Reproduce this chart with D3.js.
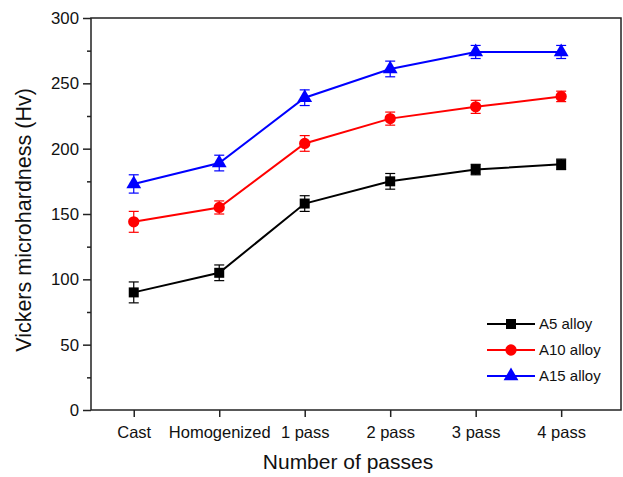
<!DOCTYPE html>
<html>
<head>
<meta charset="utf-8">
<script src="https://cdn.jsdelivr.net/npm/d3@7"></script>
<style>
  html, body { margin: 0; padding: 0; background: #fff; }
  svg { display: block; font-family: "Liberation Sans", Arial, sans-serif; }
</style>
</head>
<body>
<div id="chart"></div>
<script>
// Processing states on the x axis
const stages = ["Cast", "Homogenized", "1 pass", "2 pass", "3 pass", "4 pass"];

// Microhardness (Hv) and error bar half-widths
const a5 = [90, 105, 158, 175, 184, 188];
const a5err = [8, 6, 6, 6, 4, 4];
const a10 = [144, 155, 204, 223, 232, 240];
const a10err = [8, 5, 6, 5, 5, 4];
const a15 = [173, 189, 239, 261, 274, 274];
const a15err = [7, 6, 6, 6, 5, 5];

const yTicks = [0, 50, 100, 150, 200, 250, 300];

const series = [
  { name: "A5 alloy", values: a5, err: a5err, color: "#000000", shape: "square" },
  { name: "A10 alloy", values: a10, err: a10err, color: "#ff0000", shape: "circle" },
  { name: "A15 alloy", values: a15, err: a15err, color: "#0000ff", shape: "triangle" },
];

const W = 623, H = 477;
const margin = { top: 18, right: 2, bottom: 67, left: 91 };
const w = W - margin.left - margin.right, h = H - margin.top - margin.bottom;

const svg = d3.select("#chart").append("svg")
  .attr("width", W).attr("height", H);
const g = svg.append("g").attr("transform", `translate(${margin.left},${margin.top})`);

const x = d3.scaleLinear().domain([0.5, 6.7]).range([0, w]);
const y = d3.scaleLinear().domain([0, 300]).range([h, 0]);

// frame
g.append("rect").attr("width", w).attr("height", h)
  .attr("fill", "none").attr("stroke", "#222").attr("stroke-width", 1.5);

// y axis: major + minor ticks outward
const yAxis = g.append("g")
  .call(d3.axisLeft(y).tickValues(yTicks).tickSize(8).tickPadding(4).tickFormat(d3.format("d")));
yAxis.select(".domain").remove();
yAxis.selectAll("line").attr("stroke", "#222").attr("stroke-width", 1.5);
yAxis.selectAll("text").attr("font-size", 16.8).attr("fill", "#111")
  .attr("font-family", "Liberation Sans, Arial, sans-serif");
const yMinor = g.append("g")
  .call(d3.axisLeft(y).tickValues(d3.range(25, 300, 50)).tickSize(4).tickFormat(""));
yMinor.select(".domain").remove();
yMinor.selectAll("line").attr("stroke", "#222").attr("stroke-width", 1.5);

// x axis
const xAxis = g.append("g").attr("transform", `translate(0,${h})`)
  .call(d3.axisBottom(x).tickValues(d3.range(1, stages.length + 1))
    .tickSize(7).tickPadding(9).tickFormat(i => stages[i - 1]));
xAxis.select(".domain").remove();
xAxis.selectAll("line").attr("stroke", "#222").attr("stroke-width", 1.5);
xAxis.selectAll("text").attr("font-size", 16.5).attr("fill", "#111")
  .attr("font-family", "Liberation Sans, Arial, sans-serif");

// axis titles
svg.append("text").attr("x", 348).attr("y", 469)
  .attr("text-anchor", "middle").attr("font-size", 21).attr("fill", "#111")
  .text("Number of passes");
svg.append("text")
  .attr("transform", `translate(31,220) rotate(-90)`)
  .attr("text-anchor", "middle").attr("font-size", 21.5).attr("fill", "#111")
  .text("Vickers microhardness (Hv)");

const symbol = s => s === "square" ? d3.symbol(d3.symbolSquare, 100)
  : s === "circle" ? d3.symbol(d3.symbolCircle, 100)
  : d3.symbol(d3.symbolTriangle, 95);

const line = d3.line().x((d, i) => x(i + 1)).y(d => y(d));

for (const s of series) {
  const sg = g.append("g");
  sg.append("path").datum(s.values).attr("d", line)
    .attr("fill", "none").attr("stroke", s.color).attr("stroke-width", 2);
  // error bars
  s.values.forEach((v, i) => {
    const cx = x(i + 1), lo = y(v - s.err[i]), hi = y(v + s.err[i]);
    sg.append("line").attr("x1", cx).attr("x2", cx).attr("y1", lo).attr("y2", hi)
      .attr("stroke", s.color).attr("stroke-width", 1.2);
    for (const yy of [lo, hi]) {
      sg.append("line").attr("x1", cx - 5).attr("x2", cx + 5).attr("y1", yy).attr("y2", yy)
        .attr("stroke", s.color).attr("stroke-width", 1.2);
    }
  });
  sg.selectAll("path.m").data(s.values).join("path").attr("class", "m")
    .attr("transform", (d, i) => `translate(${x(i + 1)},${y(d)})`)
    .attr("d", symbol(s.shape)).attr("fill", s.color);
}

// legend
const lg = svg.append("g").attr("transform", "translate(487,324)");
series.forEach((s, i) => {
  const row = lg.append("g").attr("transform", `translate(0,${i * 26})`);
  row.append("line").attr("x1", 0).attr("x2", 48).attr("stroke", s.color).attr("stroke-width", 2);
  row.append("path").attr("transform", "translate(24,0)").attr("d", symbol(s.shape)).attr("fill", s.color);
  row.append("text").attr("x", 52).attr("dy", "0.35em").attr("font-size", 15).attr("fill", "#111")
    .text(s.name);
});
</script>
</body>
</html>
